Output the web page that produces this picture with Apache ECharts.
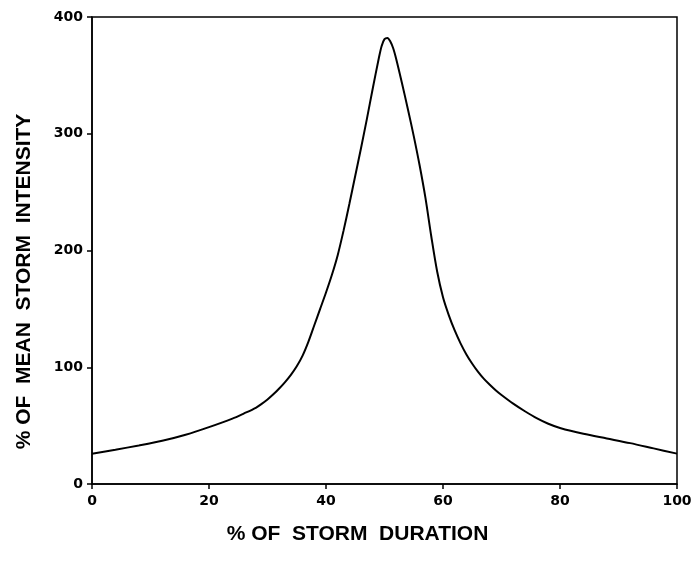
<!DOCTYPE html>
<html>
<head>
<meta charset="utf-8">
<script src="https://cdn.jsdelivr.net/npm/echarts@6/dist/echarts.min.js"></script>
<style>html,body{margin:0;padding:0;background:#fff}#c{width:695px;height:561px}</style>
</head>
<body>
<div id="c"></div>
<script>
// % of storm duration
const durationPct = [0, 4, 8, 12, 16, 20, 24, 26, 28, 29, 30, 31, 32, 33, 34, 35, 36, 37, 38, 39, 40, 41, 42, 43, 44, 45, 46, 47, 48, 49, 49.5, 50, 50.5, 51, 51.5, 52, 53, 54, 55, 56, 57, 58, 59, 60, 61, 62, 63, 64, 65, 66, 67, 68, 69, 70, 72, 74, 76, 78, 80, 84, 88, 92, 96, 100];
// % of mean storm intensity
const intensityPct = [26, 29.4, 33, 37, 42.2, 48.7, 56, 60.5, 65.3, 68.6, 72.4, 76.8, 81.8, 87.3, 93.5, 100.8, 110, 122, 136, 150, 164, 179, 196, 217, 240, 264, 288, 313, 339, 364, 375, 381, 382, 379, 373, 364, 343, 321, 298, 273, 245, 212, 182, 160, 144.5, 131.5, 120.5, 111, 103, 96, 90, 85, 80.3, 76.2, 68.8, 62.3, 56.4, 51.6, 48, 43, 39, 35, 30.5, 26];
const xTicks = [0, 20, 40, 60, 80, 100];
const yTicks = [0, 100, 200, 300, 400];
const xTitle = '% OF  STORM  DURATION';
const yTitle = '% OF  MEAN  STORM  INTENSITY';

const chart = echarts.init(document.getElementById('c'), null, {renderer: 'canvas'});
const labelFont = {color: '#000', fontFamily: 'DejaVu Sans', fontWeight: 'bold', fontSize: 14};
chart.setOption({
  animation: false,
  backgroundColor: '#fff',
  grid: {left: 92, right: 18, top: 17, bottom: 77, show: true, borderColor: '#000', borderWidth: 1.5, containLabel: false},
  xAxis: {
    type: 'value', min: xTicks[0], max: xTicks[xTicks.length - 1], interval: 20,
    name: xTitle, nameLocation: 'middle', nameGap: 40,
    nameTextStyle: {color: '#000', fontFamily: 'Liberation Sans', fontWeight: 'bold', fontSize: 21, padding: [0, 54, 0, 0]},
    axisLine: {show: true, lineStyle: {color: '#000', width: 1.5}},
    axisTick: {show: true, inside: false, length: 5, lineStyle: {color: '#000', width: 1.5}},
    axisLabel: Object.assign({margin: 10}, labelFont),
    splitLine: {show: false}
  },
  yAxis: {
    type: 'value', min: yTicks[0], max: yTicks[yTicks.length - 1], interval: 100,
    name: yTitle, nameLocation: 'middle', nameGap: 57, nameRotate: 90,
    nameTextStyle: {color: '#000', fontFamily: 'Liberation Sans', fontWeight: 'bold', fontSize: 21, padding: [0, 62, 0, 0]},
    axisLine: {show: true, lineStyle: {color: '#000', width: 1.5}},
    axisTick: {show: true, inside: false, length: 5, lineStyle: {color: '#000', width: 1.5}},
    axisLabel: Object.assign({margin: 9}, labelFont),
    splitLine: {show: false}
  },
  series: [{
    type: 'line',
    data: durationPct.map((x, i) => [x, intensityPct[i]]),
    smooth: 0.3,
    showSymbol: false,
    lineStyle: {color: '#000', width: 2},
    itemStyle: {color: '#000'}
  }]
});
</script>
</body>
</html>
